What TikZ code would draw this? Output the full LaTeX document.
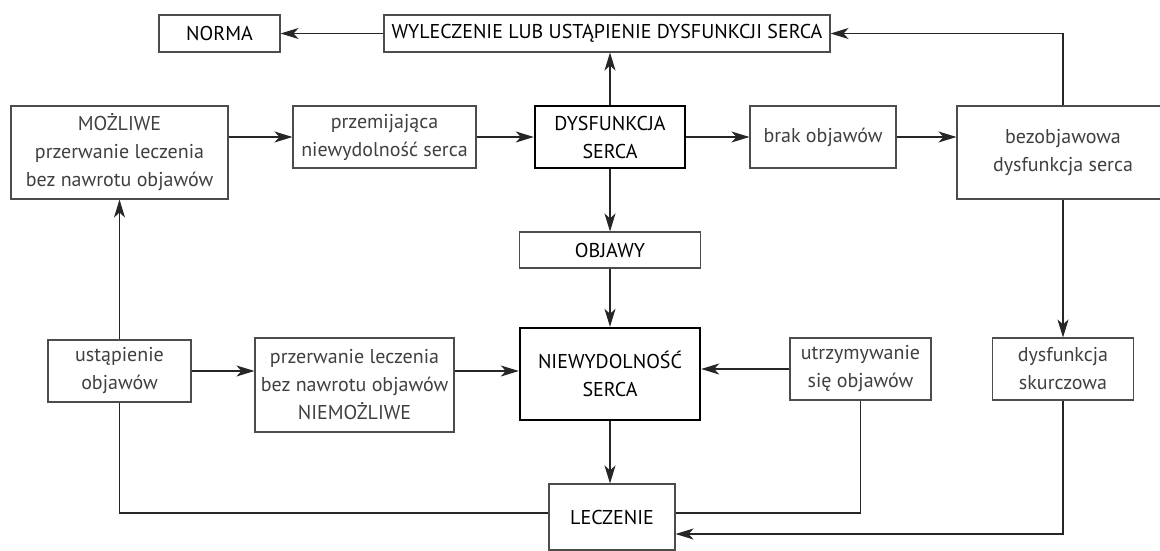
\documentclass[tikz,border=0pt]{standalone}
\usepackage{fontspec}
\setmainfont{PT Sans}
\usetikzlibrary{arrows.meta}
\begin{document}
\begin{tikzpicture}[x=1pt,y=-1pt,
  box/.style={draw=black!70, line width=1.1pt, inner sep=0pt, align=center,
    font=\fontsize{20}{28}\selectfont, text=black!75},
  capbox/.style={box, text=black},
  thickbox/.style={draw=black, line width=2.4pt, inner sep=0pt, align=center,
    font=\fontsize{20}{28}\selectfont, text=black},
  arr/.style={line width=1.1pt, draw=black!85, -{Stealth[length=18pt,width=11pt,inset=5pt]}},
  ln/.style={line width=1.1pt, draw=black!85}]
\fill[white] (0,0) rectangle (1160,551);
\useasboundingbox (0,0) rectangle (1160,551);

\node[capbox, minimum width=121pt, minimum height=37pt] (norma) at (219.5,33.5) {NORMA};
\node[capbox, minimum width=446pt, minimum height=37pt] (wyl) at (607,33.5) {WYLECZENIE LUB USTĄPIENIE DYSFUNKCJI SERCA};

\node[box, minimum width=217pt, minimum height=93pt] (moz) at (119.5,152.5) {MOŻLIWE\\przerwanie leczenia\\bez nawrotu objawów};
\node[box, minimum width=183pt, minimum height=62pt] (przem) at (384.5,137) {przemijająca\\niewydolność serca};
\node[thickbox, minimum width=150pt, minimum height=62pt] (dysf) at (610,137) {DYSFUNKCJA\\SERCA};
\node[box, minimum width=146pt, minimum height=62pt] (brak) at (823,137) {brak objawów};
\node[box, minimum width=212pt, minimum height=93pt] (bez) at (1063,152.5) {bezobjawowa\\dysfunkcja serca};

\node[capbox, minimum width=181pt, minimum height=36pt] (obj) at (610,250) {OBJAWY};

\node[thickbox, minimum width=180pt, minimum height=92pt] (niew) at (610,374) {NIEWYDOLNOŚĆ\\SERCA};
\node[box, minimum width=143pt, minimum height=62pt] (ust) at (119.5,371) {ustąpienie\\objawów};
\node[box, minimum width=199pt, minimum height=94pt] (przerw) at (354.5,385) {przerwanie leczenia\\bez nawrotu objawów\\NIEMOŻLIWE};
\node[box, minimum width=141pt, minimum height=62pt] (utrz) at (860.5,369) {utrzymywanie\\się objawów};
\node[box, minimum width=141pt, minimum height=62pt] (skurcz) at (1063,369) {dysfunkcja\\skurczowa};

\node[capbox, minimum width=126pt, minimum height=66pt] (lec) at (612,517) {LECZENIE};

% top row
\draw[arr] (wyl.west) -- (norma.east);
\draw[arr] (dysf.north) -- (dysf.north |- wyl.south);
\draw[arr] (bez.north) |- (wyl.east);
% second row
\draw[arr] (moz.east |- przem.west) -- (przem.west);
\draw[arr] (przem.east) -- (dysf.west);
\draw[arr] (dysf.east) -- (brak.west);
\draw[arr] (brak.east) -- (brak.east -| bez.west);
% vertical
\draw[arr] (dysf.south) -- (dysf.south |- obj.north);
\draw[arr] (obj.south) -- (obj.south |- niew.north);
\draw[arr] (bez.south) -- (bez.south |- skurcz.north);
\draw[arr] (ust.north) -- (ust.north |- moz.south);
% third row
\draw[arr] (ust.east) -- (ust.east -| przerw.west);
\draw[arr] (przerw.east |- ust.east) -- (niew.west |- ust.east);
\draw[arr] (utrz.west) -- (utrz.west -| niew.east);
% bottom
\draw[arr] (niew.south) -- (niew.south |- lec.north);
\draw[ln] (ust.south) |- (lec.west |- 0,513);
\draw[ln] (utrz.south) |- (lec.east |- 0,513);
\draw[arr] (skurcz.south) |- (lec.east |- 0,534);
\end{tikzpicture}
\end{document}
